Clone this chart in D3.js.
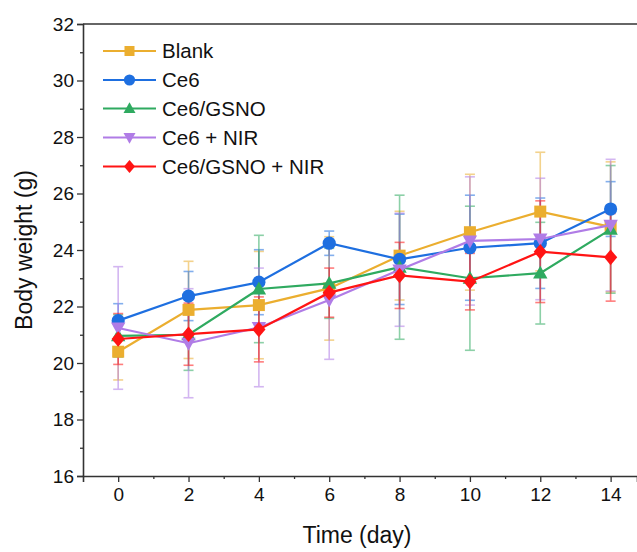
<!DOCTYPE html>
<html><head><meta charset="utf-8">
<script src="https://cdn.jsdelivr.net/npm/d3@7"></script>
<style>body{margin:0;background:#fff}svg{display:block}</style>
</head><body>
<script>
const days = [0, 2, 4, 6, 8, 10, 12, 14];
const seriesNames = ["Blank", "Ce6", "Ce6/GSNO", "Ce6 + NIR", "Ce6/GSNO + NIR"];
const blank    = [20.40, 21.88, 22.05, 22.64, 23.80, 24.63, 25.36, 24.82];
const blankErr = [1.00, 1.72, 1.90, 1.83, 1.57, 2.05, 2.10, 2.30];
const ce6      = [21.50, 22.37, 22.86, 24.24, 23.67, 24.08, 24.24, 25.45];
const ce6Err   = [0.60, 0.87, 1.15, 0.43, 1.60, 1.86, 1.60, 0.97];
const gsno     = [20.96, 21.00, 22.62, 22.82, 23.39, 23.00, 23.18, 24.73];
const gsnoErr  = [0.75, 1.26, 1.90, 1.24, 2.55, 2.55, 1.80, 2.26];
const nir      = [21.24, 20.70, 21.26, 22.23, 23.30, 24.32, 24.39, 24.88];
const nirErr   = [2.17, 1.93, 2.10, 2.10, 2.00, 2.27, 2.15, 2.33];
const gsnoNir    = [20.85, 21.02, 21.19, 22.49, 23.10, 22.88, 23.94, 23.74];
const gsnoNirErr = [0.90, 1.10, 1.15, 0.87, 1.17, 1.00, 1.80, 1.55];
const yTicks = [16, 18, 20, 22, 24, 26, 28, 30, 32];
const xTicks = [0, 2, 4, 6, 8, 10, 12, 14];

const colors = ["#EBAE2F", "#1E6FE0", "#2FAA60", "#B07CE6", "#FF1414"];
const symbols = ["square", "circle", "triUp", "triDown", "diamond"];
const values = [blank, ce6, gsno, nir, gsnoNir];
const errs = [blankErr, ce6Err, gsnoErr, nirErr, gsnoNirErr];

const W = 637, H = 552;
const svg = d3.select("body").append("svg").attr("width", W).attr("height", H);
const x = d3.scaleLinear().domain([-1, 14.75]).range([83, 637]);
const y = d3.scaleLinear().domain([16, 32]).range([476, 24]);
const axisColor = "#333";
const font = "Arial, 'Liberation Sans', sans-serif";

svg.append("line").attr("x1", 83).attr("x2", 637).attr("y1", 24).attr("y2", 24)
  .attr("stroke", axisColor).attr("stroke-width", 1.6);

const yMinor = d3.range(17, 32, 2);
const xMinor = d3.range(1, 15, 2);
svg.append("g").attr("transform", "translate(83,0)")
  .call(d3.axisLeft(y).tickValues(yTicks).tickSize(6).tickPadding(3).tickFormat(d3.format("d")));
svg.append("g").attr("transform", "translate(83,0)")
  .call(d3.axisLeft(y).tickValues(yMinor).tickSize(3).tickFormat(""))
  .call(g => g.select(".domain").remove());
svg.append("g").attr("transform", "translate(0,476)")
  .call(d3.axisBottom(x).tickValues(xTicks).tickSize(6).tickPadding(6).tickFormat(d3.format("d")));
svg.append("g").attr("transform", "translate(0,476)")
  .call(d3.axisBottom(x).tickValues(xMinor).tickSize(3).tickFormat(""))
  .call(g => g.select(".domain").remove());
svg.selectAll(".domain").attr("stroke", axisColor).attr("stroke-width", 1.6);
svg.selectAll(".tick line").attr("stroke", axisColor).attr("stroke-width", 1.3);
svg.selectAll(".tick text").attr("font-family", font).attr("font-size", 19).attr("fill", "#111");

svg.append("text").attr("transform", "translate(32,250) rotate(-90)")
  .attr("text-anchor", "middle").attr("font-family", font).attr("font-size", 23).attr("fill", "#111")
  .text("Body weight (g)");
svg.append("text").attr("x", 357).attr("y", 543)
  .attr("text-anchor", "middle").attr("font-family", font).attr("font-size", 23).attr("fill", "#111")
  .text("Time (day)");

function symbolPath(g, type, cx, cy, s, color) {
  if (type === "square") {
    g.append("rect").attr("x", cx - s/2).attr("y", cy - s/2).attr("width", s).attr("height", s).attr("fill", color);
  } else if (type === "circle") {
    g.append("circle").attr("cx", cx).attr("cy", cy).attr("r", s/2 + 0.6).attr("fill", color);
  } else if (type === "triUp") {
    g.append("path").attr("d", `M${cx},${cy - s*0.62}L${cx + s*0.6},${cy + s*0.45}L${cx - s*0.6},${cy + s*0.45}Z`).attr("fill", color);
  } else if (type === "triDown") {
    g.append("path").attr("d", `M${cx},${cy + s*0.62}L${cx + s*0.6},${cy - s*0.45}L${cx - s*0.6},${cy - s*0.45}Z`).attr("fill", color);
  } else if (type === "diamond") {
    g.append("path").attr("d", `M${cx},${cy - s*0.65}L${cx + s*0.55},${cy}L${cx},${cy + s*0.65}L${cx - s*0.55},${cy}Z`).attr("fill", color);
  }
}

values.forEach((vals, i) => {
  const g = svg.append("g").attr("stroke", colors[i]).attr("stroke-width", 1.6).attr("opacity", 0.55);
  vals.forEach((v, j) => {
    const cx = x(days[j]), e = errs[i][j];
    g.append("line").attr("x1", cx).attr("x2", cx).attr("y1", y(v - e)).attr("y2", y(v + e));
    g.append("line").attr("x1", cx - 5).attr("x2", cx + 5).attr("y1", y(v + e)).attr("y2", y(v + e));
    g.append("line").attr("x1", cx - 5).attr("x2", cx + 5).attr("y1", y(v - e)).attr("y2", y(v - e));
  });
});

const line = d3.line().x((d, j) => x(days[j])).y(d => y(d));
values.forEach((vals, i) => {
  svg.append("path").datum(vals).attr("d", line).attr("fill", "none")
    .attr("stroke", colors[i]).attr("stroke-width", 2.2);
  const g = svg.append("g");
  vals.forEach((v, j) => symbolPath(g, symbols[i], x(days[j]), y(v), 12, colors[i]));
});

const legY = [51, 80, 108.5, 137.5, 166.5];
seriesNames.forEach((name, i) => {
  const g = svg.append("g");
  g.append("line").attr("x1", 103).attr("x2", 156).attr("y1", legY[i]).attr("y2", legY[i])
    .attr("stroke", colors[i]).attr("stroke-width", 2.2);
  symbolPath(g, symbols[i], 129.5, legY[i], 10, colors[i]);
  g.append("text").attr("x", 162).attr("y", legY[i] + 7).attr("font-family", font)
    .attr("font-size", 20.5).attr("fill", "#111").text(name);
});
</script>
</body></html>
